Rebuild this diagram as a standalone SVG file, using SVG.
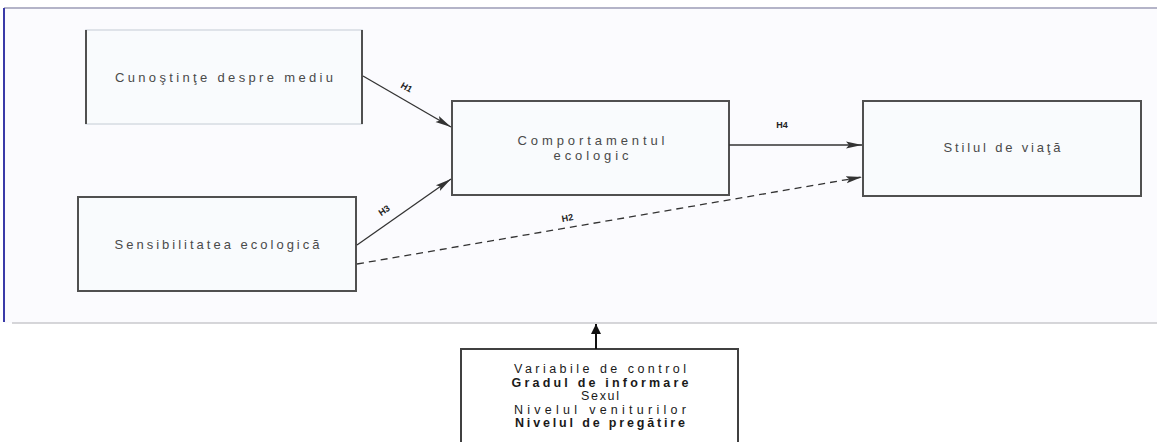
<svg xmlns="http://www.w3.org/2000/svg" width="1157" height="442" viewBox="0 0 1157 442">
<style>
.box{fill:#f9fbfd;stroke:#505050;stroke-width:2}
.t{font-family:"Liberation Sans",Arial,sans-serif;font-size:13px;fill:#4a4a4a;text-anchor:middle}
.tb{font-family:"Liberation Sans",Arial,sans-serif;font-size:12.5px;fill:#1a1a1a;text-anchor:middle}
.lbl{font-family:"Liberation Sans",Arial,sans-serif;font-size:9px;font-weight:bold;fill:#222;text-anchor:middle}
.c{fill:none;stroke:#333;stroke-width:1.3}
.d{stroke-dasharray:7 5}
</style>
<defs>
<marker id="ah" viewBox="0 0 16 9" refX="16" refY="4.5" markerWidth="16" markerHeight="9" markerUnits="userSpaceOnUse" orient="auto">
<path d="M0,1 L16,4.5 L0,8 L3,4.5 Z" fill="#333"/>
</marker>
<marker id="up" viewBox="0 0 10 10" refX="5" refY="0" markerWidth="10" markerHeight="10" markerUnits="userSpaceOnUse" orient="0">
<path d="M0,10 L5,0 L10,10 Z" fill="#111"/>
</marker>
</defs>
<rect width="1157" height="442" fill="#ffffff"/>
<rect x="4" y="8" width="1153" height="315" fill="#fbfbfe"/>
<g id="frame">
<line x1="4" y1="8" x2="1157" y2="8" stroke="#b4b4c8" stroke-width="2"/>
<line x1="12" y1="323" x2="1157" y2="323" stroke="#c8c8cc" stroke-width="1.5"/>
<line x1="4" y1="8" x2="4" y2="322" stroke="#3a3aa8" stroke-width="2"/>
</g>
<g id="n1">
<rect x="86" y="30" width="276" height="94" fill="#f9fbfd" stroke="#d6dce2" stroke-width="1.5"/>
<line x1="86" y1="30" x2="86" y2="124" stroke="#505050" stroke-width="2"/>
<line x1="362" y1="30" x2="362" y2="124" stroke="#505050" stroke-width="2"/>
<text class="t" x="224" y="82" textLength="218" lengthAdjust="spacing">Cunoştinţe despre mediu</text>
</g>
<g id="n2">
<rect class="box" x="452" y="101" width="277" height="94"/>
<text class="t" x="591" y="145" textLength="147" lengthAdjust="spacing">Comportamentul</text>
<text class="t" x="591" y="160" textLength="75" lengthAdjust="spacing">ecologic</text>
</g>
<g id="n3">
<rect class="box" x="78" y="197" width="278" height="94"/>
<text class="t" x="217" y="249" textLength="205" lengthAdjust="spacing">Sensibilitatea ecologică</text>
</g>
<g id="n4">
<rect class="box" x="863" y="101" width="278" height="95"/>
<text class="t" x="1002" y="152" textLength="117" lengthAdjust="spacing">Stilul de viaţă</text>
</g>
<g id="n5">
<rect x="461" y="349" width="277" height="100" fill="#ffffff" stroke="#404040" stroke-width="2"/>
<text class="tb" x="600" y="373" textLength="172" lengthAdjust="spacing">Variabile de control</text>
<text class="tb" x="600" y="387" textLength="177" lengthAdjust="spacing" font-weight="bold">Gradul de informare</text>
<text class="tb" x="600" y="400" textLength="38" lengthAdjust="spacing">Sexul</text>
<text class="tb" x="600" y="414" textLength="172" lengthAdjust="spacing">Nivelul veniturilor</text>
<text class="tb" x="600" y="427" textLength="170" lengthAdjust="spacing" font-weight="bold">Nivelul de pregătire</text>
</g>
<g id="connectors">
<path class="c" d="M363,76 L451,127" marker-end="url(#ah)"/>
<path class="c" d="M357,245 L451,179" marker-end="url(#ah)"/>
<path class="c d" d="M357,264 L862,177" marker-end="url(#ah)"/>
<path class="c" d="M729,145 L862,145" marker-end="url(#ah)"/>
<path d="M596,349 L596,324" stroke="#111" stroke-width="2" fill="none" marker-end="url(#up)"/>
<text class="lbl" x="0" y="0" transform="translate(405,90) rotate(30)">H1</text>
<text class="lbl" x="0" y="0" transform="translate(386,213) rotate(-35)">H3</text>
<text class="lbl" x="0" y="0" transform="translate(568,221) rotate(-10)">H2</text>
<text class="lbl" x="782" y="128">H4</text>
</g>
</svg>
